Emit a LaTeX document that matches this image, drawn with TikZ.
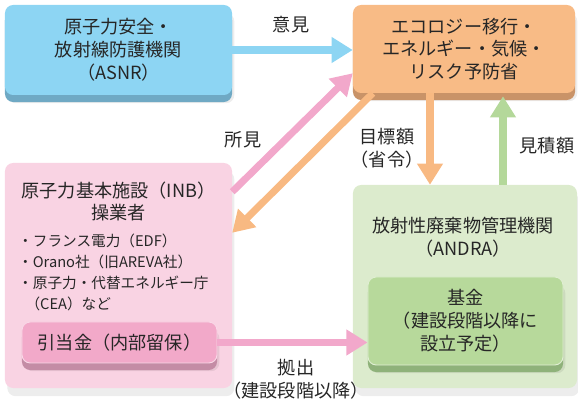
\documentclass[tikz,border=0pt]{standalone}
\usepackage{fontspec}
\setmainfont{Noto Sans CJK JP}
\usetikzlibrary{arrows.meta,calc,shadows}
\definecolor{asnrface}{HTML}{8DD5F3}\definecolor{asnrslab}{HTML}{6FA9C4}
\definecolor{minface}{HTML}{F8BB86}\definecolor{minslab}{HTML}{C99368}
\definecolor{inbface}{HTML}{F9D3E3}\definecolor{hikiface}{HTML}{F2A9C9}\definecolor{hikislab}{HTML}{C48CA5}
\definecolor{andraface}{HTML}{DCEBCD}\definecolor{kikinface}{HTML}{B7D99B}\definecolor{kikinslab}{HTML}{8FB27A}
\definecolor{arrblue}{HTML}{8DD5F3}\definecolor{arrpink}{HTML}{F2A8CB}\definecolor{arrorange}{HTML}{F8B982}\definecolor{arrgreen}{HTML}{B4D89A}
\begin{document}
\begin{tikzpicture}[x=0.03cm,y=-0.03cm,line join=round,text=black!85,font=\fontsize{15.5}{19.5}\selectfont,
  card/.style={rounded corners=7pt,align=center,inner sep=0pt},
  soft/.style={general shadow={shadow xshift=2pt,shadow yshift=-7pt,fill=black,opacity=.07}},
  slab/.style={general shadow={shadow xshift=0pt,shadow yshift=-6pt,fill=#1,opacity=1}},
  rim/.style={draw=white!55!#1,line width=.8pt},
  arr/.style={draw=#1,line width=6pt,-{Triangle[length=18pt,width=21pt,fill=#1]}}]
\useasboundingbox (0,0) rectangle (578,399);
% boxes
\node[card,soft,slab=asnrslab,fill=asnrface,minimum width=6.81cm,minimum height=2.7cm] (asnr) at (118.5,50) {原子力安全・\\放射線防護機関\\（ASNR）};
\node[card,soft,slab=minslab,fill=minface,minimum width=6.66cm,minimum height=2.64cm] (mine) at (464,49) {エコロジー移行・\\エネルギー・気候・\\リスク予防省};
\node[card,soft,fill=inbface,minimum width=6.81cm,minimum height=6.75cm] (inb) at (118.5,275.5) {};
\node[card,soft,fill=andraface,minimum width=6.72cm,minimum height=6.09cm] (andra) at (465,286.5) {};
\node[card,soft,slab=hikislab,fill=hikiface,rim=hikiface,minimum width=5.85cm,minimum height=1.23cm] (hiki) at (119.5,342.5) {引当金（内部留保）};
\node[card,soft,slab=kikinslab,fill=kikinface,rim=kikinface,minimum width=5.85cm,minimum height=2.64cm] (kikin) at (465.5,321) {基金\\（建設段階以降に\\設立予定）};
% texts in the big boxes
\node[align=center] (inbtitle) at (118.5,201.5) {原子力基本施設（INB）\\操業者};
\node[align=left,anchor=west,inner sep=0pt,font=\fontsize{12.5}{18}\selectfont] (inblist) at (18,272.5) {・フランス電力（EDF）\\・Orano社（旧AREVA社）\\・原子力・代替エネルギー庁\\\hspace*{.5em}（CEA）など};
\node[align=center] (andratitle) at (463,237.5) {放射性廃棄物管理機関\\（ANDRA）};
% arrows
\draw[arr=arrblue] (asnr.east) -- (asnr.east -| mine.west);
\draw[arr=arrpink] ($(inb.north east)+(0,29)$) -- ($(mine.south west)+(0,-20)$);
\draw[arr=arrorange] ($(mine.south west)+(20,0)$) -- ($(inb.north east)+(0,70)$);
\coordinate (down) at ($(mine.south)+(-34,0)$);
\coordinate (up) at ($(andra.north)+(38,0)$);
\draw[arr=arrorange] (down) -- (down |- andra.north);
\draw[arr=arrgreen] (up) -- ($(up |- mine.south)+(0,3)$);
\draw[arr=arrpink] (hiki.east) -- (hiki.east -| kikin.west);
% labels
\node (iken) at (291,25) {意見};
\node (shoken) at (243,140) {所見};
\node[align=center] (mokuhyo) at (387,148) {目標額\\（省令）};
\node (mitsumori) at (547,146) {見積額};
\node[align=center] (kyoshutsu) at (296,379) {拠出\\（建設段階以降）};
\end{tikzpicture}
\end{document}
